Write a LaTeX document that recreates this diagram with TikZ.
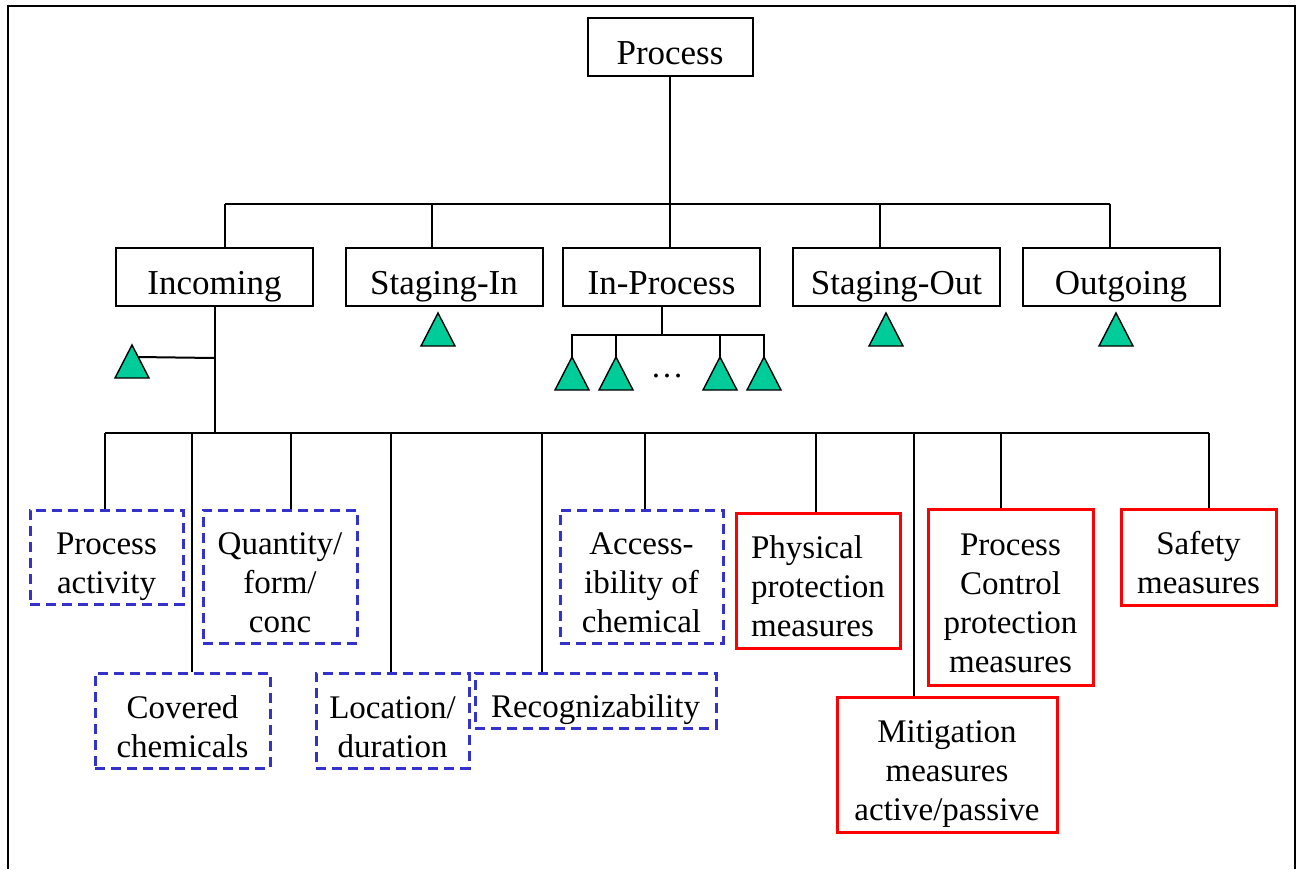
\documentclass[tikz,border=0pt]{standalone}
\usepackage{fontspec}
\setmainfont{Liberation Serif}
\definecolor{trigreen}{RGB}{0,204,153}
\definecolor{dashblue}{RGB}{51,51,204}
\newcommand{\tri}[3]{%
  \coordinate (#1) at (#2,#3);
  \filldraw[fill=trigreen,draw=black,line width=0.7pt] (#1) -- ++(-17,33) -- ++(34,0) -- cycle;}

\tikzset{
  box/.style={draw, line width=1pt, inner sep=0pt, align=center, font=\fontsize{16.5}{19.5}\selectfont,
    execute at begin node={\rule{0pt}{21pt}}, execute at end node={\rule[-4pt]{0pt}{0pt}}},
  rows/.style={execute at begin node={\rule{0pt}{\dimexpr 21pt+#1\baselineskip\relax}}},
  big/.style={box, font=\fontsize{17.5}{20}\selectfont},
  soft/.style={box, draw=dashblue, line width=1.5pt, dash pattern=on 5pt off 3pt},
  hard/.style={box, draw=red, line width=1.5pt},
  wh/.style 2 args={minimum width=0.5*#1pt, minimum height=0.5*#2pt},
  link/.style={line width=1pt},
}

\begin{document}
\begin{tikzpicture}[x=0.5pt,y=-0.5pt]
\useasboundingbox (0,0) rectangle (1296,869);

\draw[line width=1pt] (8,869) -- (8,6) -- (1295,6) -- (1295,869);

% top levels
\node[big, wh={165}{58}] (proc) at (670,47) {Process};

\node[big, wh={197}{58}] (inc) at (214.5,277) {Incoming};
\node[big, wh={197}{58}] (stin) at (444,277) {Staging-In};
\node[big, wh={197}{58}] (inpr) at (661.5,277) {In-Process};
\node[big, wh={207}{58}] (stout) at (896.5,277) {Staging-Out};
\node[big, wh={197}{58}] (outg) at (1121,277) {Outgoing};

\foreach \n/\x in {inc/225,stin/432,inpr/670,stout/880,outg/1110}{
  \coordinate (up\n) at (\x,204);
  \draw[link] (up\n) -- (up\n |- \n.north);
}
\draw[link] (upinc) -- (upoutg);
\draw[link] (proc.south) -- (upinpr);

% triangles
\tri{tri-stin}{438}{313}
\tri{tri-stout}{886}{313}
\tri{tri-outg}{1116}{313}

\tri{tri-p1}{572}{357}
\tri{tri-p2}{616}{357}
\tri{tri-p3}{720}{357}
\tri{tri-p4}{764}{357}
\node[font=\fontsize{16.5}{19.5}\selectfont, inner sep=0pt] (dots) at (667,376) {…};

\path (inpr.south) ++(0,28) coordinate (inpr-j);
\draw[link] (inpr.south) -- (inpr-j);
\draw[link] (tri-p1) -- (tri-p1 |- inpr-j) -| (tri-p4);
\draw[link] (tri-p2) -- (tri-p2 |- inpr-j);
\draw[link] (tri-p3) -- (tri-p3 |- inpr-j);

\tri{tri-inc}{132}{345}
\coordinate (tri-inc-r) at (138,357);
\path (inc.south) ++(0,51) coordinate (inc-j);
\path (inc.south) ++(0,127) coordinate (inc-b);
\draw[link] (inc.south) -- (inc-b);
\draw[link] (tri-inc-r) -- (inc-j);

% bottom level
\node[soft, rows=1, wh={153}{94}] (pact) at (106.5,557) {Process\\activity};
\node[soft, rows=1, wh={175}{95}] (covc) at (182.5,720.5) {Covered\\chemicals};
\node[soft, rows=2, wh={154}{133}] (qty) at (280,576.5) {Quantity/\\form/\\conc};
\node[soft, rows=1, wh={153}{95}] (loc) at (392.5,720.5) {Location/\\duration};
\node[soft, wh={241}{55}] (recog) at (595.5,700.5) {Recognizability};
\node[soft, rows=2, wh={163}{133}] (acc) at (641.5,576.5) {Access-\\ibility of\\chemical};
\node[hard, rows=2, wh={164}{135}, align=left] (phys) at (818,580.5) {Physical\\protection\\measures};
\node[hard, rows=3, wh={165}{176}] (pctl) at (1010.5,597) {Process\\Control\\protection\\measures};
\node[hard, rows=1, wh={155}{96}] (safe) at (1198.5,557) {Safety\\measures};
\node[hard, rows=2, wh={220}{135}] (mitig) at (947,764.5) {Mitigation\\measures\\active/passive};

\foreach \n/\x in {pact/105,covc/192,qty/291,loc/391,recog/542,acc/645,phys/816,mitig/914,pctl/1001,safe/1209}{
  \coordinate (dn\n) at (\x,433);
  \draw[link] (dn\n) -- (dn\n |- \n.north);
}
\draw[link] (dnpact) -- (dnsafe);

\end{tikzpicture}
\end{document}
